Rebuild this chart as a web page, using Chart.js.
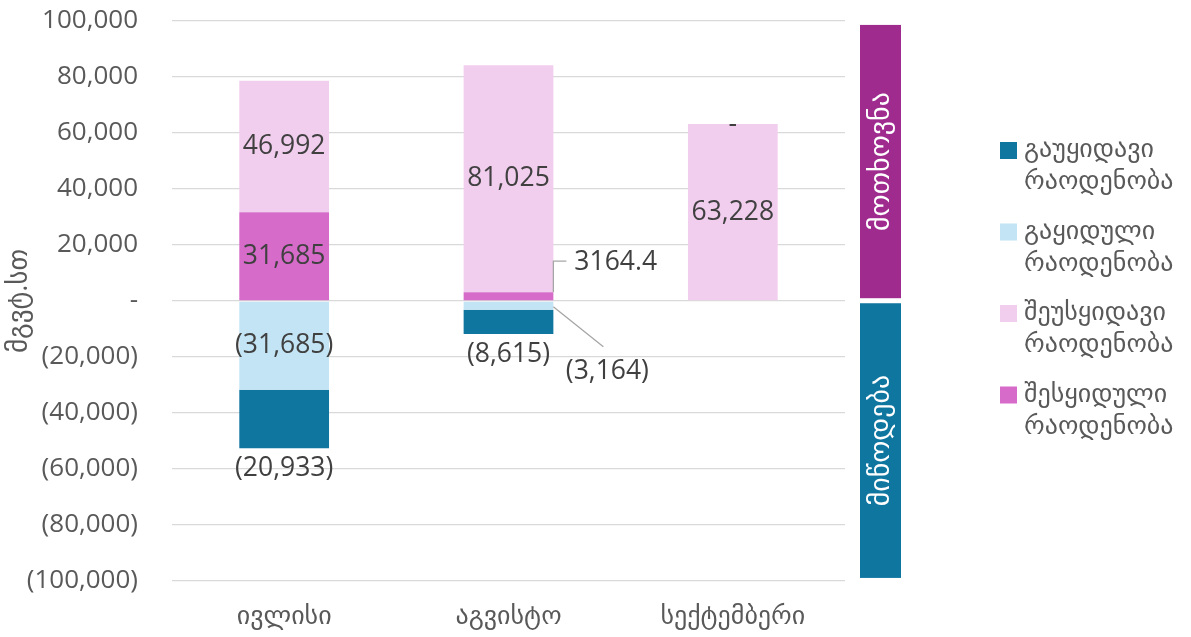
<!DOCTYPE html>
<html>
<head>
<meta charset="utf-8">
<script src="https://cdn.jsdelivr.net/npm/chart.js@4.4.1/dist/chart.umd.min.js"></script>
<style>
  html, body { margin: 0; padding: 0; background: #fff; }
  #wrap { width: 1191px; height: 637px; position: relative; }
</style>
</head>
<body>
<div id="wrap"><canvas id="c"></canvas></div>
<script>
const months = ['ივლისი', 'აგვისტო', 'სექტემბერი'];
const unsold = [-20933, -8615, 0];        // გაუყიდავი რაოდენობა
const sold = [-31685, -3164, 0];          // გაყიდული რაოდენობა
const notBought = [46992, 81025, 63228];  // შეუსყიდავი რაოდენობა
const bought = [31685, 3164.4, 0];        // შესყიდული რაოდენობა
const yTicks = [-100000, -80000, -60000, -40000, -20000, 0, 20000, 40000, 60000, 80000, 100000];
const sideBoxes = [
  { text: 'მოთხოვნა', from: 1000, to: 98600, color: '#9f2b8f' },
  { text: 'მიწოდება', from: -800, to: -98900, color: '#0f76a0' }
];

const FONT = "'Open Sans', 'DejaVu Sans', sans-serif";
const GREY = '#595959';
const DARK = '#404040';

const colors = {
  unsold: '#0f76a0',
  sold: '#c2e4f4',
  notBought: '#f2ceee',
  bought: '#d66bc9'
};

// where each bar's label goes: c = centre, b = below, t = top of stack, up/down = callout, null = none
const placement = {
  sold: ['c', 'down', null],
  unsold: ['b', 'b', null],
  bought: ['c', 'up', 't'],
  notBought: ['c', 'c', 'c']
};

function fmt(v) {
  if (v === 0) return '-';
  if (!Number.isInteger(v)) return String(v);
  const s = Math.abs(v).toLocaleString('en-US');
  return v < 0 ? '(' + s + ')' : s;
}

const labelPlugin = {
  id: 'barLabels',
  afterDatasetsDraw(chart) {
    const ctx = chart.ctx;
    ctx.save();
    ctx.font = '26.5px ' + FONT;
    ctx.fillStyle = DARK;
    ctx.textBaseline = 'middle';
    chart.data.datasets.forEach((ds, di) => {
      const meta = chart.getDatasetMeta(di);
      meta.data.forEach((el, i) => {
        const where = placement[ds.key][i];
        if (!where) return;
        const v = ds.data[i];
        const txt = fmt(v);
        const top = Math.min(el.y, el.base), bot = Math.max(el.y, el.base);
        const right = el.x + el.width / 2;
        ctx.textAlign = 'center';
        if (where === 'c') {
          ctx.fillText(txt, el.x, (top + bot) / 2);
        } else if (where === 'b') {
          ctx.fillText(txt, el.x, bot + 20);
        } else if (where === 't') {
          let stackTop = chart.scales.y.getPixelForValue(0);
          chart.data.datasets.forEach((d2, j) => {
            const e2 = chart.getDatasetMeta(j).data[i];
            stackTop = Math.min(stackTop, e2.y, e2.base);
          });
          ctx.fillText(txt, el.x, stackTop);
        } else {
          ctx.strokeStyle = '#a6a6a6';
          ctx.lineWidth = 1.3;
          ctx.beginPath();
          if (where === 'up') {
            ctx.moveTo(right, top);
            ctx.lineTo(right, top - 31);
            ctx.lineTo(right + 13, top - 31);
            ctx.stroke();
            ctx.textAlign = 'left';
            ctx.fillText(txt, right + 21, top - 30);
          } else {
            ctx.moveTo(right, bot - 3);
            ctx.lineTo(right + 50, bot + 37);
            ctx.stroke();
            ctx.fillText(txt, right + 54, bot + 62);
          }
        }
      });
    });
    ctx.restore();
  }
};

const sidePlugin = {
  id: 'sidePanel',
  afterDraw(chart) {
    const ctx = chart.ctx;
    const y = chart.scales.y;
    ctx.save();
    sideBoxes.forEach(b => {
      const y1 = y.getPixelForValue(b.to), y2 = y.getPixelForValue(b.from);
      const top = Math.min(y1, y2), h = Math.abs(y2 - y1);
      ctx.fillStyle = b.color;
      ctx.fillRect(860, top, 41, h);
      ctx.save();
      ctx.translate(881, top + h / 2);
      ctx.rotate(-Math.PI / 2);
      ctx.fillStyle = '#fff';
      ctx.font = '28px ' + FONT;
      ctx.textAlign = 'center';
      ctx.textBaseline = 'middle';
      ctx.fillText(b.text, 0, 0);
      ctx.restore();
    });
    // legend
    const legend = [
      { key: 'unsold', l1: 'გაუყიდავი' },
      { key: 'sold', l1: 'გაყიდული' },
      { key: 'notBought', l1: 'შეუსყიდავი' },
      { key: 'bought', l1: 'შესყიდული' }
    ];
    ctx.font = '26px ' + FONT;
    ctx.textBaseline = 'middle';
    ctx.textAlign = 'left';
    legend.forEach((it, k) => {
      const ly = 150 + k * 81.5;
      ctx.fillStyle = colors[it.key];
      ctx.fillRect(1000, ly - 8, 17, 17);
      ctx.fillStyle = GREY;
      ctx.fillText(it.l1, 1024, ly);
      ctx.fillText('რაოდენობა', 1024, ly + 32);
    });
    ctx.restore();
  }
};

new Chart(document.getElementById('c'), {
  type: 'bar',
  data: {
    labels: months,
    datasets: [
      { key: 'sold', label: 'გაყიდული რაოდენობა', data: sold, backgroundColor: colors.sold },
      { key: 'unsold', label: 'გაუყიდავი რაოდენობა', data: unsold, backgroundColor: colors.unsold },
      { key: 'bought', label: 'შესყიდული რაოდენობა', data: bought, backgroundColor: colors.bought },
      { key: 'notBought', label: 'შეუსყიდავი რაოდენობა', data: notBought, backgroundColor: colors.notBought }
    ]
  },
  options: {
    responsive: true,
    maintainAspectRatio: false,
    animation: false,
    layout: { padding: { top: 21, right: 346, bottom: 0, left: 0 } },
    datasets: { bar: { barPercentage: 1, categoryPercentage: 0.4 } },
    plugins: { legend: { display: false }, tooltip: { enabled: false } },
    scales: {
      x: {
        stacked: true,
        grid: { display: false },
        border: { display: false },
        afterFit(scale) { scale.height = 56; scale.paddingLeft = 0; scale.paddingRight = 0; },
        ticks: { color: GREY, font: { family: FONT, size: 26 }, padding: 12 }
      },
      y: {
        stacked: true,
        min: -100000,
        max: 100000,
        afterBuildTicks(scale) { scale.ticks = yTicks.map(v => ({ value: v })); },
        afterFit(scale) { scale.width = 172; scale.paddingTop = 0; scale.paddingBottom = 0; },
        grid: { color: '#d9d9d9', lineWidth: 1.3, drawTicks: false },
        border: { display: false },
        ticks: { color: GREY, font: { family: FONT, size: 26 }, padding: 34, callback: v => fmt(v) },
        title: { display: true, text: 'მგვტ.სთ', color: GREY, font: { family: FONT, size: 27 }, padding: { top: 3, bottom: 0 } }
      }
    }
  },
  plugins: [labelPlugin, sidePlugin]
});
</script>
</body>
</html>
